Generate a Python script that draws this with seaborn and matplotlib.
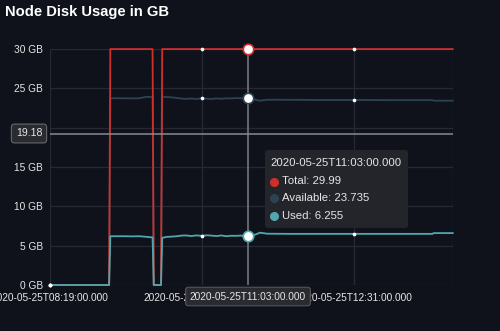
import numpy as np
import pandas as pd
import matplotlib
matplotlib.use("Agg")
import matplotlib.pyplot as plt
import matplotlib.dates as mdates
from matplotlib.patches import FancyBboxPatch
from matplotlib.lines import Line2D
import seaborn as sns

# ---------------- data ----------------
start_time = "2020-05-25 08:19:00"
minutes = [0, 49, 50, 56, 62, 68, 74, 80, 85, 86,
           92, 93, 97, 101, 105, 109, 113, 117, 121, 126,
           130, 134, 138, 142, 146, 150, 154, 158, 161, 164,
           167, 170, 174, 180, 200, 225, 252, 280, 317, 318,
           334]
total = [0, 0, 29.99, 29.99, 29.99, 29.99, 29.99, 29.99, 29.99, 0,
         0, 29.99, 29.99, 29.99, 29.99, 29.99, 29.99, 29.99, 29.99, 29.99,
         29.99, 29.99, 29.99, 29.99, 29.99, 29.99, 29.99, 29.99, 29.99, 29.99,
         29.99, 29.99, 29.99, 29.99, 29.99, 29.99, 29.99, 29.99, 29.99, 29.99,
         29.99]
available = [0, 0, 23.74, 23.74, 23.73, 23.72, 23.74, 23.92, 23.9, 0,
             0, 23.93, 23.9, 23.85, 23.78, 23.7, 23.66, 23.7, 23.65, 23.73,
             23.68, 23.65, 23.72, 23.67, 23.74, 23.71, 23.76, 23.74, 23.73, 23.735,
             23.65, 23.55, 23.43, 23.55, 23.54, 23.52, 23.52, 23.5, 23.5, 23.43,
             23.43]
used = [0, 0, 6.2, 6.2, 6.2, 6.18, 6.2, 6.12, 6.05, 0,
        0, 6.0, 6.12, 6.15, 6.2, 6.28, 6.3, 6.22, 6.3, 6.25,
        6.32, 6.28, 6.22, 6.3, 6.2, 6.26, 6.25, 6.28, 6.24, 6.255,
        6.3, 6.4, 6.65, 6.52, 6.5, 6.5, 6.5, 6.5, 6.5, 6.6,
        6.6]
series_names = ["Total", "Available", "Used"]
series_colors = ["#d12f2c", "#2c4353", "#4fa7af"]
y_ticks = [0, 5, 10, 15, 20, 25, 30]
x_tick_minutes = [0, 126, 252]
axis_end_minute = 334
point_minutes = [0, 126, 252]
hover_minute = 164
hover_values = ["29.99", "23.735", "6.255"]
crosshair_value = 19.18
title = "Node Disk Usage in GB"

# ---------------- styling ----------------
bg = "#10121b"
grid_c = "#262833"
text_c = "#e6e6e6"
sns.set_theme(style="dark")
plt.rcParams["font.family"] = ["Liberation Sans", "DejaVu Sans"]

t0 = pd.Timestamp(start_time)
times = t0 + pd.to_timedelta(minutes, unit="min")
df = pd.DataFrame({
    "time": list(times) * 3,
    "value": total + available + used,
    "series": [s for s in series_names for _ in minutes],
})
palette = dict(zip(series_names, series_colors))

W, H = 500, 331
fig = plt.figure(figsize=(W / 100, H / 100), dpi=100, facecolor=bg)


def fx(px):
    return px / W


def fy(py):
    return 1 - py / H


ax = fig.add_axes([fx(50), fy(285), fx(453) - fx(50), fy(49) - fy(285)])
ax.set_facecolor(bg)

sns.lineplot(data=df, x="time", y="value", hue="series", hue_order=series_names,
             palette=palette, legend=False, ax=ax, linewidth=1.3,
             estimator=None, sort=False)
for ln, z in zip(ax.lines, [2.2, 2.1, 2.3]):
    ln.set_clip_on(False)
    ln.set_zorder(z)

# small points at tick times
pts = df[df["time"].isin(t0 + pd.to_timedelta(point_minutes, unit="min"))]
sns.scatterplot(data=pts, x="time", y="value", color="white", s=7,
                linewidth=0, ax=ax, zorder=5, clip_on=False, legend=False)

# crosshairs
hover_t = t0 + pd.Timedelta(minutes=hover_minute)
ax.axvline(hover_t, color="#7d7e84", lw=1.1, zorder=4)
ax.axhline(crosshair_value, color="#8a8b90", lw=1.1, zorder=4)

# hover markers
hv = df[df["time"] == hover_t]
for (_, row), col in zip(hv.iterrows(), series_colors):
    ax.plot([row["time"]], [row["value"]], marker="o", ms=7.5, mfc="white",
            mec=col, mew=1.2, zorder=6, clip_on=False)

ax.set_xlim(t0, t0 + pd.Timedelta(minutes=axis_end_minute))
ax.set_ylim(0, 30)
ax.set_xticks(list(t0 + pd.to_timedelta(x_tick_minutes, unit="min")))
ax.xaxis.set_major_formatter(mdates.DateFormatter("%Y-%m-%dT%H:%M:%S.000"))
ax.set_xticks([t0 + pd.Timedelta(minutes=axis_end_minute)], minor=True)
ax.set_yticks(y_ticks)
ax.set_yticklabels([f"{v} GB" for v in y_ticks])
ax.set_xlabel("")
ax.set_ylabel("")
ax.grid(True, which="both", color=grid_c, lw=0.9)
ax.tick_params(axis="both", which="both", colors=grid_c, labelcolor=text_c,
               labelsize=7.25, length=2.5, width=0.9)
ax.tick_params(axis="x", pad=3)
ax.tick_params(axis="y", pad=2.5)
for sp in ax.spines.values():
    sp.set_visible(False)

# title
fig.text(fx(5), fy(12), title, color="white", fontsize=10.6, fontweight="bold",
         ha="left", va="center")

# y crosshair label
fig.text(fx(29), fy(133.5), "19.18", color=text_c, fontsize=7.6, ha="center",
         va="center", zorder=10,
         bbox=dict(boxstyle="round,pad=0.42,rounding_size=0.3", fc="#2a2b30",
                   ec="#66676c", lw=0.8))

# x crosshair label
fig.text(fx(248), fy(296.5), "2020-05-25T11:03:00.000", color=text_c,
         fontsize=7.3, ha="center", va="center", zorder=10,
         bbox=dict(boxstyle="round,pad=0.42,rounding_size=0.25", fc="#2a2b30",
                   ec="#55565b", lw=0.8))

# tooltip
tip = FancyBboxPatch((fx(265), fy(228)), fx(408) - fx(265), fy(150) - fy(228),
                     boxstyle="round,pad=0,rounding_size=0.008",
                     transform=fig.transFigure, fc="#25262c", ec="none",
                     alpha=0.96, zorder=9)
fig.add_artist(tip)
fig.text(fx(270), fy(163), "2020-05-25T11:03:00.000", color=text_c,
         fontsize=8.2, ha="left", va="center", zorder=10)
for i, (name, col, val) in enumerate(zip(series_names, series_colors, hover_values)):
    yy = [181.5, 198.5, 216][i]
    fig.add_artist(Line2D([fx(274)], [fy(yy)], marker="o", ms=5.5, color=col,
                          mec=col, transform=fig.transFigure, zorder=10))
    fig.text(fx(282), fy(yy), f"{name}: {val}", color=text_c, fontsize=8.2,
             ha="left", va="center", zorder=10)

fig.savefig("out.png", dpi=100, facecolor=bg)
